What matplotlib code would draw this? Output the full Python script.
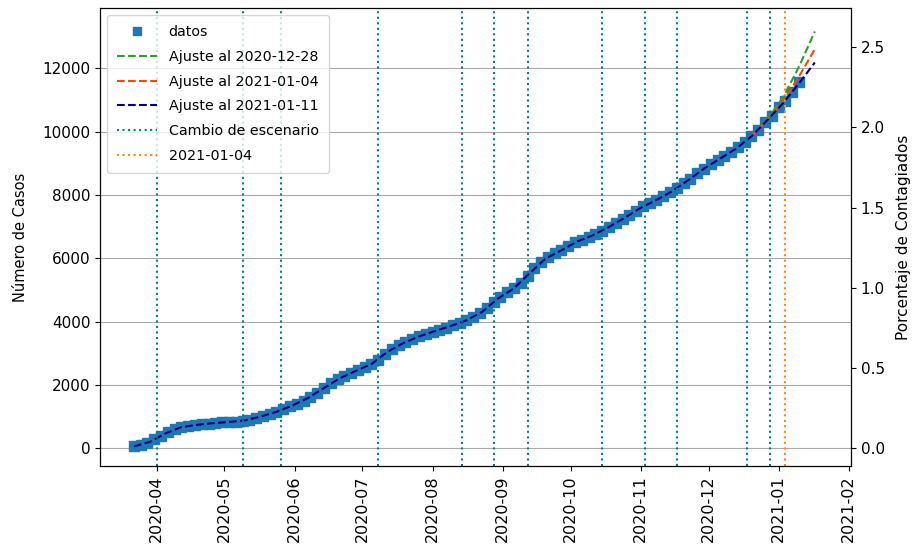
import numpy as np
import pandas as pd
import matplotlib
matplotlib.use("Agg")
import matplotlib.pyplot as plt
import matplotlib.dates as mdates

# Datos: casos acumulados cada 3 días desde 2020-03-22
casos = [60, 110, 180, 280, 390, 510, 610, 670, 700, 730,
         760, 780, 800, 815, 830, 845, 870, 900, 960, 1010,
         1080, 1150, 1230, 1320, 1410, 1500, 1620, 1760, 1900, 2060,
         2180, 2280, 2380, 2470, 2560, 2660, 2800, 2980, 3150, 3270,
         3350, 3440, 3530, 3620, 3680, 3750, 3810, 3880, 3970, 4040,
         4140, 4260, 4430, 4630, 4780, 4920, 5050, 5220, 5450, 5680,
         5880, 6030, 6150, 6250, 6380, 6500, 6590, 6680, 6760, 6870,
         6990, 7120, 7240, 7370, 7500, 7640, 7740, 7840, 7950, 8080,
         8210, 8360, 8510, 8680, 8830, 8960, 9090, 9230, 9360, 9500,
         9680, 9850, 10050, 10290, 10500, 10760, 10980, 11260, 11560]
fechas = pd.date_range("2020-03-22", periods=len(casos), freq="3D")

# Ajuste al 2021-01-11 (semanal, de 2020-03-22 a 2021-01-17)
ajuste_0111 = [60, 200, 470, 670, 740, 795, 830, 880, 1000, 1150,
               1350, 1590, 1900, 2210, 2440, 2660, 3040, 3320, 3530, 3700,
               3860, 4040, 4310, 4730, 5050, 5530, 5990, 6250, 6530, 6730,
               6990, 7280, 7590, 7840, 8120, 8460, 8830, 9140, 9450, 9850,
               10360, 10900, 11520, 12180]
fechas_ajuste = pd.date_range("2020-03-22", periods=len(ajuste_0111), freq="7D")

# Ajustes anteriores (solo el tramo final, donde se separan)
fechas_cola = pd.date_range("2020-12-20", periods=5, freq="7D")
ajuste_1228 = [9860, 10400, 11080, 12050, 13160]
ajuste_0104 = [9850, 10370, 10960, 11740, 12600]

cambios = ["2020-04-01", "2020-05-09", "2020-05-26", "2020-07-08",
           "2020-08-14", "2020-08-28", "2020-09-12", "2020-10-15",
           "2020-11-03", "2020-11-17", "2020-12-18", "2020-12-28"]
fecha_actual = "2021-01-04"

poblacion = 506600

fig = plt.figure(figsize=(9.14, 5.53), dpi=100)
ax = fig.add_axes([0.1094, 0.1573, 0.8217, 0.8282])

ax.plot(fechas, casos, "s", color="#1f77b4", markersize=7, label="datos")
ax.plot(fechas_cola, ajuste_1228, "--", color="#2ca02c", lw=1.5,
        label="Ajuste al 2020-12-28")
ax.plot(fechas_cola, ajuste_0104, "--", color="orangered", lw=1.5,
        label="Ajuste al 2021-01-04")
ax.plot(fechas_ajuste, ajuste_0111, "--", color="navy", lw=1.5,
        label="Ajuste al 2021-01-11")

for i, f in enumerate(cambios):
    ax.axvline(pd.Timestamp(f), color="teal", linestyle=":", lw=1.5,
               label="Cambio de escenario" if i == 0 else None)
ax.axvline(pd.Timestamp(fecha_actual), color="darkorange", linestyle=":",
           lw=1.5, label=fecha_actual)

ax.set_xlim(pd.Timestamp("2020-03-07"), pd.Timestamp("2021-02-02"))
ax.set_ylim(-560, 13900)
ax.xaxis.set_major_locator(mdates.MonthLocator())
ax.xaxis.set_major_formatter(mdates.DateFormatter("%Y-%m"))
ax.tick_params(axis="x", labelsize=11.5, labelrotation=90)
ax.tick_params(axis="y", labelsize=11)
ax.grid(axis="y", color="#a8a8a8")
ax.set_ylabel("Número de Casos", fontsize=10.5, labelpad=10)
ax.legend(loc="upper left", fontsize=10.3, markerscale=0.75,
          handlelength=2.8, labelspacing=0.75, borderpad=0.7)

ax2 = ax.twinx()
y0, y1 = ax.get_ylim()
ax2.set_ylim(y0 / poblacion * 100, y1 / poblacion * 100)
ax2.tick_params(axis="y", labelsize=11)
ax2.set_ylabel("Porcentaje de Contagiados", fontsize=11, labelpad=8)

fig.savefig("out.png", dpi=100)
